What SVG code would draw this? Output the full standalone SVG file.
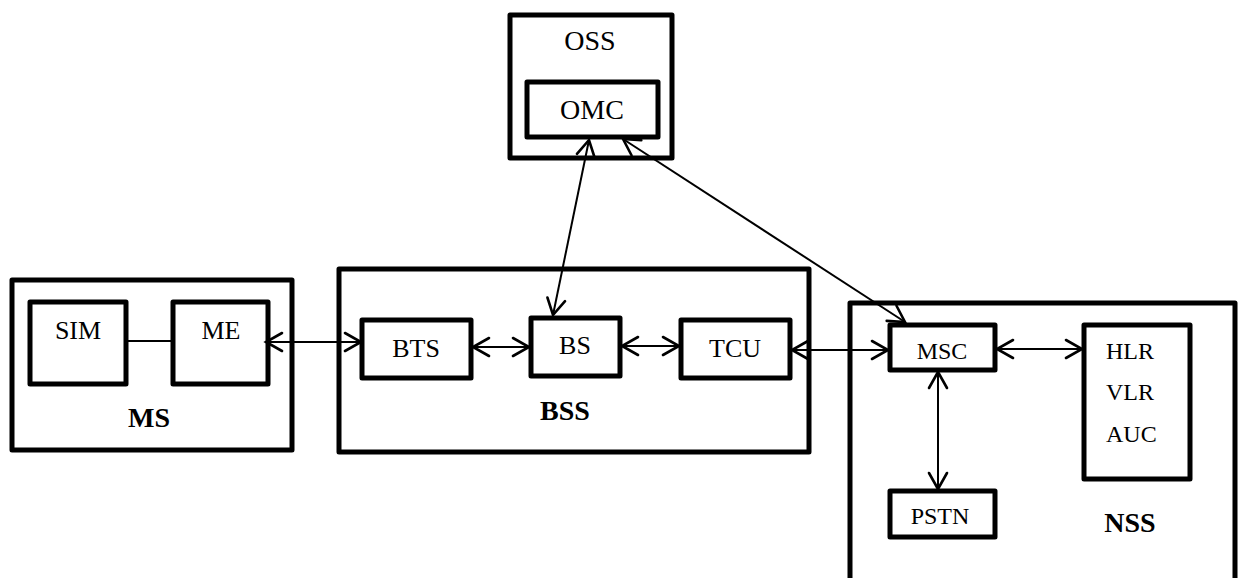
<svg xmlns="http://www.w3.org/2000/svg" width="1238" height="578" viewBox="0 0 1238 578">
<style>
rect.box{fill:none;stroke:#000;stroke-width:5;stroke-linejoin:round}
text{font-family:"Liberation Serif","Times New Roman",serif;fill:#000}
.t28{font-size:28px}
.t26{font-size:26px}
.t24{font-size:24px}
.b{font-size:28px;font-weight:bold}
.c{stroke:#000;stroke-width:2;fill:none}
</style>
<defs>
<marker id="ah" viewBox="-20 -12 24 24" markerWidth="24" markerHeight="24" refX="0" refY="0" orient="auto-start-reverse" markerUnits="userSpaceOnUse">
<path d="M-16,-9 L0,0 L-16,9" fill="none" stroke="#000" stroke-width="2.6" stroke-linecap="round"/>
</marker>
</defs>
<rect width="1238" height="578" fill="#fff"/>
<g id="OSS">
<rect class="box" x="510" y="15" width="162" height="143"/>
<text class="t28" x="590" y="50" text-anchor="middle">OSS</text>
</g>
<g id="OMC">
<rect class="box" x="527" y="82" width="131" height="55"/>
<text class="t28" x="592" y="119" text-anchor="middle">OMC</text>
</g>
<g id="MS">
<rect class="box" x="12" y="280" width="280" height="170"/>
<text class="b" x="149" y="427" text-anchor="middle">MS</text>
</g>
<g id="SIM">
<rect class="box" x="30" y="302" width="96" height="82"/>
<text class="t26" x="78" y="339" text-anchor="middle">SIM</text>
</g>
<g id="ME">
<rect class="box" x="173" y="302" width="95" height="82"/>
<text class="t26" x="221" y="339" text-anchor="middle">ME</text>
</g>
<g id="BSS">
<rect class="box" x="339" y="269" width="470" height="183"/>
<text class="b" x="565" y="420" text-anchor="middle">BSS</text>
</g>
<g id="BTS">
<rect class="box" x="362" y="320" width="109" height="58"/>
<text class="t26" x="416" y="357" text-anchor="middle">BTS</text>
</g>
<g id="BS">
<rect class="box" x="531" y="318" width="89" height="58"/>
<text class="t26" x="575" y="354" text-anchor="middle">BS</text>
</g>
<g id="TCU">
<rect class="box" x="681" y="320" width="109" height="58"/>
<text class="t26" x="735" y="357" text-anchor="middle">TCU</text>
</g>
<g id="NSS">
<rect class="box" x="850" y="303" width="385" height="290"/>
<text class="b" x="1130" y="532" text-anchor="middle">NSS</text>
</g>
<g id="MSC">
<rect class="box" x="890" y="325" width="105" height="45"/>
<text class="t24" x="942" y="359" text-anchor="middle">MSC</text>
</g>
<g id="HLR">
<rect class="box" x="1084" y="325" width="106" height="154"/>
<text class="t24" x="1106" y="359">HLR</text>
<text class="t24" x="1106" y="400">VLR</text>
<text class="t24" x="1106" y="442">AUC</text>
</g>
<g id="PSTN">
<rect class="box" x="890" y="491" width="105" height="46"/>
<text class="t24" x="940" y="524" text-anchor="middle">PSTN</text>
</g>
<g id="connectors">
<line class="c" x1="126" y1="341" x2="173" y2="341"/>
<line class="c" x1="266" y1="342" x2="361" y2="342" marker-start="url(#ah)" marker-end="url(#ah)"/>
<line class="c" x1="473" y1="347" x2="529" y2="347" marker-start="url(#ah)" marker-end="url(#ah)"/>
<line class="c" x1="622" y1="346" x2="679" y2="346" marker-start="url(#ah)" marker-end="url(#ah)"/>
<line class="c" x1="792" y1="350" x2="888" y2="350" marker-start="url(#ah)" marker-end="url(#ah)"/>
<line class="c" x1="997" y1="349" x2="1082" y2="349" marker-start="url(#ah)" marker-end="url(#ah)"/>
<line class="c" x1="938" y1="372" x2="938" y2="489" marker-start="url(#ah)" marker-end="url(#ah)"/>
<line class="c" x1="589" y1="140" x2="553" y2="315" marker-start="url(#ah)" marker-end="url(#ah)"/>
<line class="c" x1="623" y1="139" x2="905" y2="322" marker-start="url(#ah)" marker-end="url(#ah)"/>
</g>
</svg>
